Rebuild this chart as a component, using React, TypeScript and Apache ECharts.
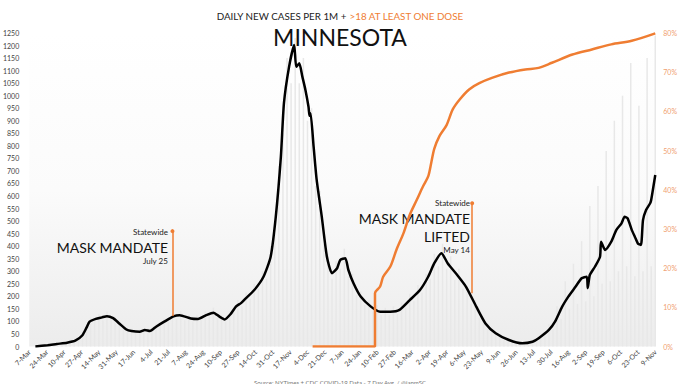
import React, { useEffect, useRef } from "react";
import * as echarts from "echarts";

// x positions are days since 7-Mar-2020; one tick every 17 days
const TICK_LABELS = [
  "7-Mar", "24-Mar", "10-Apr", "27-Apr", "14-May", "31-May", "17-Jun", "4-Jul", "21-Jul",
  "7-Aug", "24-Aug", "10-Sep", "27-Sep", "14-Oct", "31-Oct", "17-Nov", "4-Dec", "21-Dec",
  "7-Jan", "24-Jan", "10-Feb", "27-Feb", "16-Mar", "2-Apr", "19-Apr", "6-May", "23-May",
  "9-Jun", "26-Jun", "13-Jul", "30-Jul", "16-Aug", "2-Sep", "19-Sep", "6-Oct", "23-Oct", "9-Nov",
];
const TICK_STEP = 17;
const LAST_DAY = 612;

// 7-day average daily new cases per 1M (black line)
const CASE_DAYS = [
  6, 18, 27, 37, 45, 52, 56, 59, 65, 71, 76, 82, 88, 95, 100, 108, 113, 118, 124, 132,
  141, 147, 158, 165, 173, 180, 186, 191, 197, 202, 207, 210, 220, 229, 236, 241, 246, 249, 254, 259,
  261, 264, 267, 270, 273, 274, 275, 278, 281, 286, 291, 296, 301, 304, 309, 312, 317, 324, 334, 343,
  353, 362, 372, 382, 390, 396, 403, 409, 417, 427, 437, 446, 456, 469, 482, 492, 498, 508, 514, 521,
  527, 534, 540, 545, 546, 548, 553, 558, 559, 563, 569, 574, 579, 582, 585, 589, 592, 595, 598, 600,
  603, 607, 608, 612,
];
const CASE_VALUES = [
  0, 5, 10, 15, 23, 45, 75, 99, 110, 116, 121, 113, 92, 68, 62, 59, 66, 62, 79, 99,
  120, 125, 112, 110, 125, 135, 119, 108, 130, 159, 173, 185, 225, 278, 358, 517, 757, 970, 1115, 1202,
  1115, 1129, 1076, 1023, 956, 920, 930, 797, 664, 517, 358, 292, 312, 345, 352, 305, 252, 199, 159, 139,
  139, 146, 185, 225, 278, 332, 372, 332, 292, 238, 159, 92, 53, 26, 13, 19, 33, 66, 99, 159,
  199, 238, 272, 278, 233, 285, 318, 358, 418, 385, 418, 465, 491, 517, 511, 465, 438, 411, 405, 504,
  544, 571, 584, 684,
];

// daily reported cases per 1M (faint bars), one every 4 days from day 8
const BAR_FIRST_DAY = 8;
const BAR_EVERY = 4;
const BAR_VALUES = [
  2, 3, 5, 6, 9, 11, 10, 16, 20, 25,
  35, 60, 85, 115, 100, 130, 105, 140, 110, 120,
  85, 90, 60, 70, 55, 68, 58, 72, 62, 90,
  80, 112, 100, 135, 110, 140, 105, 125, 100, 125,
  105, 140, 120, 155, 115, 125, 100, 140, 135, 185,
  160, 215, 190, 250, 230, 300, 270, 400, 450, 720,
  850, 1150, 1050, 1230, 1050, 1150, 900, 950, 640, 620,
  410, 370, 270, 340, 310, 390, 280, 290, 205, 220,
  165, 185, 140, 165, 125, 155, 125, 160, 130, 175,
  155, 210, 180, 245, 215, 290, 270, 370, 320, 410,
  310, 360, 265, 310, 230, 240, 170, 185, 115, 120,
  75, 80, 45, 50, 28, 32, 18, 22, 10, 16,
  12, 25, 20, 55, 40, 90, 70, 160, 110, 260,
  150, 330, 170, 420, 180, 560, 200, 640, 250, 780,
  260, 900, 300, 1000, 320, 1130, 280, 960, 300, 1150,
  320, 1240,
];

// % of 18+ with at least one dose (orange line, right axis)
const DOSE_DAYS = [
  277, 338, 338, 343, 346, 353, 359, 366, 372, 379, 385, 390, 393, 396, 401, 408, 414, 421, 430, 440,
  453, 469, 485, 498, 511, 531, 550, 569, 589, 612,
];
const DOSE_PCT = [
  0, 0, 13.6, 15.3, 17.8, 20.4, 24.7, 29, 33.6, 37.5, 40.9, 43.4, 46.9, 50.5, 53.7, 56.5, 60.5, 63.1, 65.6, 67.2,
  68.6, 69.9, 70.7, 71.1, 72.4, 74.5, 75.8, 77.1, 78, 79.9,
];

// mandate events: [day, bottom value, top value]
const EVENTS = [
  { day: 140, from: 122, to: 460 },
  { day: 433, from: 212, to: 571 },
];

const ORANGE = "#ef7d32";
const FONT = "Lato";

export default function App() {
  const ref = useRef<HTMLDivElement>(null);
  useEffect(() => {
    if (!ref.current) return;
    const chart = echarts.init(ref.current, null, { renderer: "svg" });
    const caseData = CASE_DAYS.map((d, i) => [d, CASE_VALUES[i]]);
    const barData = BAR_VALUES.map((v, i) => [BAR_FIRST_DAY + i * BAR_EVERY, v]);
    const doseData = DOSE_DAYS.map((d, i) => [d, DOSE_PCT[i]]);
    chart.setOption({
      animation: false,
      backgroundColor: "#ffffff",
      textStyle: { fontFamily: FONT },
      title: [
        {
          text: "{a|DAILY NEW CASES PER 1M + }{b|>18 AT LEAST ONE DOSE}",
          left: "center",
          top: 6,
          textStyle: {
            fontWeight: "normal",
            rich: {
              a: { fontFamily: FONT, fontSize: 9.8, fontWeight: "normal", color: "#222" },
              b: { fontFamily: FONT, fontSize: 9.8, fontWeight: "normal", color: ORANGE },
            },
          },
        },
        {
          text: "MINNESOTA",
          left: "center",
          top: 20,
          textStyle: { fontFamily: FONT, fontSize: 23, fontWeight: "normal", color: "#111" },
        },
        {
          text: "Source: NYTimes + CDC COVID-19 Data - 7 Day Avg. / @ianmSC",
          left: "center",
          top: 374,
          textStyle: { fontFamily: FONT, fontSize: 6, fontWeight: "normal", color: "#777" },
        },
      ],
      grid: {
        left: 27,
        right: 23,
        top: 33,
        bottom: 37.5,
        show: true,
        borderWidth: 0,
        backgroundColor: new echarts.graphic.LinearGradient(0, 0, 0, 1, [
          { offset: 0, color: "#ffffff" },
          { offset: 0.5, color: "#fbfbfb" },
          { offset: 1, color: "#ececec" },
        ]),
      },
      xAxis: {
        type: "value",
        min: 0,
        max: LAST_DAY,
        interval: TICK_STEP,
        axisLine: { show: false },
        axisTick: { show: false },
        splitLine: { show: false },
        axisLabel: {
          rotate: 45,
          fontSize: 7,
          color: "#444",
          margin: 4,
          fontFamily: FONT,
          formatter: (v: number) => TICK_LABELS[Math.round(v / TICK_STEP)] ?? "",
        },
      },
      yAxis: [
        {
          type: "value",
          min: 0,
          max: 1250,
          interval: 50,
          axisLine: { show: false },
          axisTick: { show: false },
          splitLine: { show: false },
          axisLabel: {
            fontSize: 7,
            color: "#444",
            margin: 10,
            fontFamily: FONT,
            formatter: (v: number) => String(v),
          },
        },
        {
          type: "value",
          min: 0,
          max: 80,
          interval: 10,
          position: "right",
          axisLine: { show: false },
          axisTick: { show: false },
          splitLine: { show: false },
          axisLabel: { fontSize: 7, color: "#f0a070", margin: 8, fontFamily: FONT, formatter: "{value}%" },
        },
      ],
      series: [
        {
          type: "bar",
          data: barData,
          barWidth: 1.5,
          itemStyle: { color: "#e8e8e8" },
          silent: true,
          z: 1,
        },
        {
          type: "line",
          data: caseData,
          showSymbol: false,
          smooth: 0.2,
          lineStyle: { color: "#000", width: 2.5 },
          z: 3,
          markLine: {
            silent: true,
            symbol: ["none", "circle"],
            symbolSize: 4,
            label: { show: false },
            lineStyle: { color: ORANGE, width: 1.5, type: "solid" },
            data: EVENTS.map((e) => [
              { coord: [e.day, e.from] },
              { coord: [e.day, e.to] },
            ]),
          },
        },
        {
          type: "line",
          yAxisIndex: 1,
          data: doseData,
          showSymbol: false,
          smooth: 0.3,
          lineStyle: { color: ORANGE, width: 2.5 },
          z: 4,
        },
      ],
      graphic: [
        { type: "text", right: 680 - 168, top: 228, style: { text: "Statewide", font: `8px ${FONT}`, fill: "#222" } },
        { type: "text", right: 680 - 168, top: 240, style: { text: "MASK MANDATE", font: `14px ${FONT}`, fill: "#111" } },
        { type: "text", right: 680 - 168, top: 257, style: { text: "July 25", font: `8px ${FONT}`, fill: "#222" } },
        { type: "text", right: 680 - 470, top: 199, style: { text: "Statewide", font: `8px ${FONT}`, fill: "#222" } },
        { type: "text", right: 680 - 470, top: 211, style: { text: "MASK MANDATE", font: `14px ${FONT}`, fill: "#111" } },
        { type: "text", right: 680 - 470, top: 229, style: { text: "LIFTED", font: `14px ${FONT}`, fill: "#111" } },
        { type: "text", right: 680 - 470, top: 246, style: { text: "May 14", font: `8px ${FONT}`, fill: "#222" } },
      ],
    });
    return () => chart.dispose();
  }, []);
  return <div ref={ref} style={{ position: "fixed", left: 0, top: 0, width: 680, height: 384 }} />;
}
